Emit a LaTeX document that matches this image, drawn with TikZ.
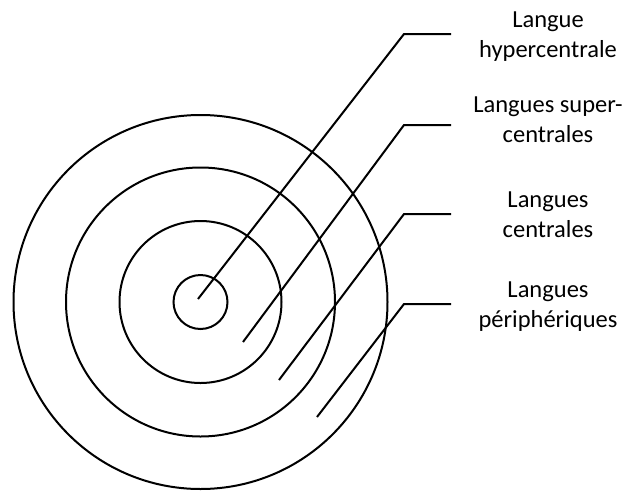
\documentclass[tikz,border=0pt]{standalone}
\usepackage{fontspec}
\setmainfont{Carlito}
\begin{document}
\begin{tikzpicture}[x=1pt,y=-1pt,
  ring/.style={draw=black,line width=2pt},
  leader/.style={draw=black,line width=2pt},
  lbl/.style={align=center,inner sep=0pt,anchor=base,font=\fontsize{24.5}{29.5}\selectfont}]
\useasboundingbox[fill=white] (0,0) rectangle (634,490);
\coordinate (c) at (200.5,302);
\draw[ring] (c) circle[radius=27];
\draw[ring] (c) circle[radius=81];
\draw[ring] (c) circle[radius=134.5];
\draw[ring] (c) circle[radius=187];
% leader coordinates
\coordinate (p1) at (198,299);
\coordinate (k1) at (404,34);
\coordinate (e1) at (451,34);
\coordinate (p2) at (243,342);
\coordinate (k2) at (404,125);
\coordinate (e2) at (451,125);
\coordinate (p3) at (279,380);
\coordinate (k3) at (404,214);
\coordinate (e3) at (451,214);
\coordinate (p4) at (317,417);
\coordinate (k4) at (404,304);
\coordinate (e4) at (451,304);
\draw[leader] (p1) -- (k1) -- (e1);
\draw[leader] (p2) -- (k2) -- (e2);
\draw[leader] (p3) -- (k3) -- (e3);
\draw[leader] (p4) -- (k4) -- (e4);
% labels
\node[lbl] (l1) at (548,57) {Langue\\hypercentrale};
\node[lbl] (l2) at (548,142) {Langues super-\\centrales};
\node[lbl] (l3) at (548,237) {Langues\\centrales};
\node[lbl] (l4) at (548,327) {Langues\\périphériques};
\end{tikzpicture}
\end{document}
